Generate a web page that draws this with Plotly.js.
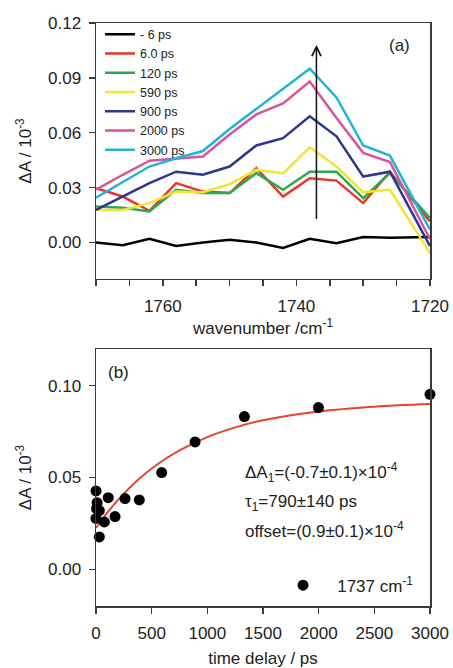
<!DOCTYPE html>
<html>
<head>
<meta charset="utf-8">
<script src="https://cdn.plot.ly/plotly-3.0.1.min.js"></script>
<style>html,body{margin:0;padding:0;background:#fff;}#chart{width:453px;height:668px;}</style>
</head>
<body>
<div id="chart"></div>
<script>
// ---- Panel (a): transient spectra ----
const wavenumber = [1770, 1766, 1762, 1758, 1754, 1750, 1746, 1742, 1738, 1734, 1730, 1726, 1720];
const seriesNames = ['- 6 ps', '6.0 ps', '120 ps', '590 ps', '900 ps', '2000 ps', '3000 ps'];
const dA_m6ps   = [0.000, -0.0015, 0.002, -0.002, 0.000, 0.0015, 0.000, -0.003, 0.002, -0.0005, 0.003, 0.0025, 0.003];
const dA_6ps    = [0.0297, 0.0251, 0.0173, 0.0324, 0.0278, 0.027, 0.0406, 0.0251, 0.0351, 0.0338, 0.0215, 0.0387, 0.0115];
const dA_120ps  = [0.0196, 0.019, 0.0169, 0.0288, 0.027, 0.027, 0.0379, 0.0288, 0.0387, 0.0387, 0.0242, 0.0379, 0.0133];
const dA_590ps  = [0.0178, 0.0178, 0.0215, 0.0278, 0.0275, 0.0318, 0.0397, 0.0378, 0.052, 0.0415, 0.0275, 0.0288, -0.0058];
const dA_900ps  = [0.0178, 0.025, 0.0324, 0.0387, 0.037, 0.0415, 0.053, 0.057, 0.069, 0.058, 0.036, 0.0387, -0.002];
const dA_2000ps = [0.0288, 0.037, 0.0447, 0.046, 0.047, 0.059, 0.070, 0.076, 0.088, 0.068, 0.049, 0.044, 0.0018];
const dA_3000ps = [0.0245, 0.033, 0.0415, 0.046, 0.050, 0.062, 0.073, 0.084, 0.095, 0.0793, 0.053, 0.0475, 0.007];
const spectra = [dA_m6ps, dA_6ps, dA_120ps, dA_590ps, dA_900ps, dA_2000ps, dA_3000ps];
const spectraColors = ['#000000', '#e8362a', '#2fa752', '#f3e42c', '#2d3592', '#d9549c', '#22b3d6'];

// ---- Panel (b): kinetic trace at 1737 cm-1 ----
const delayPs = [0, 10, 5, 30, 0, 75, 30, 110, 171, 261, 389, 590, 890, 1333, 1998, 3000];
const dA1737  = [0.0427, 0.0363, 0.033, 0.032, 0.0277, 0.0258, 0.0176, 0.039, 0.0287, 0.0385, 0.0378, 0.0527, 0.0694, 0.0832, 0.0881, 0.0953];
const fitTime = [0, 50, 100, 175, 250, 375, 500, 625, 750, 1000, 1250, 1500, 2000, 2500, 3000];
const fitDA   = [0.0225, 0.0267, 0.0307, 0.0362, 0.0412, 0.0486, 0.0549, 0.0602, 0.0648, 0.072, 0.0773, 0.0812, 0.086, 0.0886, 0.090];
const traceLabel = '\u00a0\u00a0\u00a01737 cm<sup>-1</sup>';

const FONT = 'Liberation Sans, Arial, sans-serif';
const TXT = '#222222';
const AX = '#3a3a3a';
const FS = 17;

const traces = seriesNames.map((name, i) => ({
  x: wavenumber, y: spectra[i], type: 'scatter', mode: 'lines', name: name,
  line: {color: spectraColors[i], width: 2.5}, xaxis: 'x', yaxis: 'y', legend: 'legend'
}));
traces.push({
  x: fitTime, y: fitDA, type: 'scatter', mode: 'lines', showlegend: false,
  line: {color: '#e8432b', width: 2, shape: 'spline'}, xaxis: 'x2', yaxis: 'y2'
});
traces.push({
  x: delayPs, y: dA1737, type: 'scatter', mode: 'markers', name: traceLabel,
  marker: {color: '#000000', size: 11}, cliponaxis: false,
  xaxis: 'x2', yaxis: 'y2', legend: 'legend2'
});

const axisCommon = {
  showline: true, linecolor: AX, linewidth: 1.5, mirror: true,
  ticks: 'outside', ticklen: 6, tickwidth: 1.5, tickcolor: AX,
  showgrid: false, zeroline: false,
  tickfont: {family: FONT, size: FS, color: TXT}
};

const layout = {
  width: 453, height: 668,
  margin: {l: 96, r: 23, t: 23, b: 62},
  paper_bgcolor: '#ffffff', plot_bgcolor: '#ffffff',
  font: {family: FONT, color: TXT},
  xaxis: Object.assign({}, axisCommon, {
    domain: [0, 1], anchor: 'y', range: [1770, 1720],
    tickvals: [1760, 1740, 1720], ticklabelstandoff: 5,
    minor: {dtick: 5, ticks: 'outside', ticklen: 6, tickwidth: 1.5, tickcolor: AX, showgrid: false},
    title: {text: 'wavenumber /cm<sup>-1</sup>', font: {family: FONT, size: FS, color: TXT}, standoff: 7}
  }),
  yaxis: Object.assign({}, axisCommon, {
    domain: [0.5609, 1], anchor: 'x', range: [-0.02, 0.12],
    tickvals: [0, 0.03, 0.06, 0.09, 0.12], tickformat: '.2f', ticklabelstandoff: 4,
    title: {text: '\u0394A / 10<sup>-3</sup>', font: {family: FONT, size: FS, color: TXT}, standoff: 12}
  }),
  xaxis2: Object.assign({}, axisCommon, {
    domain: [0, 1], anchor: 'y2', range: [0, 3000],
    tickvals: [0, 500, 1000, 1500, 2000, 2500, 3000], ticklabelstandoff: 5,
    title: {text: 'time delay / ps', font: {family: FONT, size: FS, color: TXT}, standoff: 11}
  }),
  yaxis2: Object.assign({}, axisCommon, {
    domain: [0, 0.4408], anchor: 'x2', range: [-0.02, 0.12],
    tickvals: [0, 0.05, 0.10], tickformat: '.2f', ticklabelstandoff: 4,
    title: {text: '\u0394A / 10<sup>-3</sup>', font: {family: FONT, size: FS, color: TXT}, standoff: 12}
  }),
  legend: {
    x: 0.012, xanchor: 'left', y: 1.006, yanchor: 'top',
    bgcolor: 'rgba(0,0,0,0)', borderwidth: 0,
    font: {family: FONT, size: 12.5, color: TXT},
    tracegroupgap: 0, itemwidth: 30
  },
  legend2: {
    x: 0.56, xanchor: 'left', y: 0.035, yanchor: 'middle',
    bgcolor: 'rgba(0,0,0,0)', borderwidth: 0,
    font: {family: FONT, size: FS, color: TXT}
  },
  annotations: [
    {xref: 'x', yref: 'y', x: 1737, y: 0.108, ax: 1737, ay: 0.012, axref: 'x', ayref: 'y',
     showarrow: true, arrowhead: 5, arrowsize: 1.2, arrowwidth: 1.5, arrowcolor: '#111111', text: ''},
    {xref: 'paper', yref: 'paper', x: 0.91, y: 0.962, xanchor: 'center', yanchor: 'middle',
     text: '(a)', showarrow: false, font: {family: FONT, size: FS, color: TXT}},
    {xref: 'paper', yref: 'paper', x: 0.03, y: 0.3997, xanchor: 'left', yanchor: 'middle',
     text: '(b)', showarrow: false, font: {family: FONT, size: FS, color: TXT}},
    {xref: 'paper', yref: 'paper', x: 0.44, y: 0.2298, xanchor: 'left', yanchor: 'middle',
     text: '\u0394A<sub>1</sub>=(-0.7\u00b10.1)\u00d710<sup>-4</sup>', showarrow: false,
     font: {family: FONT, size: FS, color: TXT}},
    {xref: 'paper', yref: 'paper', x: 0.44, y: 0.1767, xanchor: 'left', yanchor: 'middle',
     text: '\u03c4<sub>1</sub>=790\u00b1140 ps', showarrow: false,
     font: {family: FONT, size: FS, color: TXT}},
    {xref: 'paper', yref: 'paper', x: 0.44, y: 0.1304, xanchor: 'left', yanchor: 'middle',
     text: 'offset=(0.9\u00b10.1)\u00d710<sup>-4</sup>', showarrow: false,
     font: {family: FONT, size: FS, color: TXT}}
  ]
};

Plotly.newPlot('chart', traces, layout, {staticPlot: true, displayModeBar: false});
</script>
</body>
</html>
